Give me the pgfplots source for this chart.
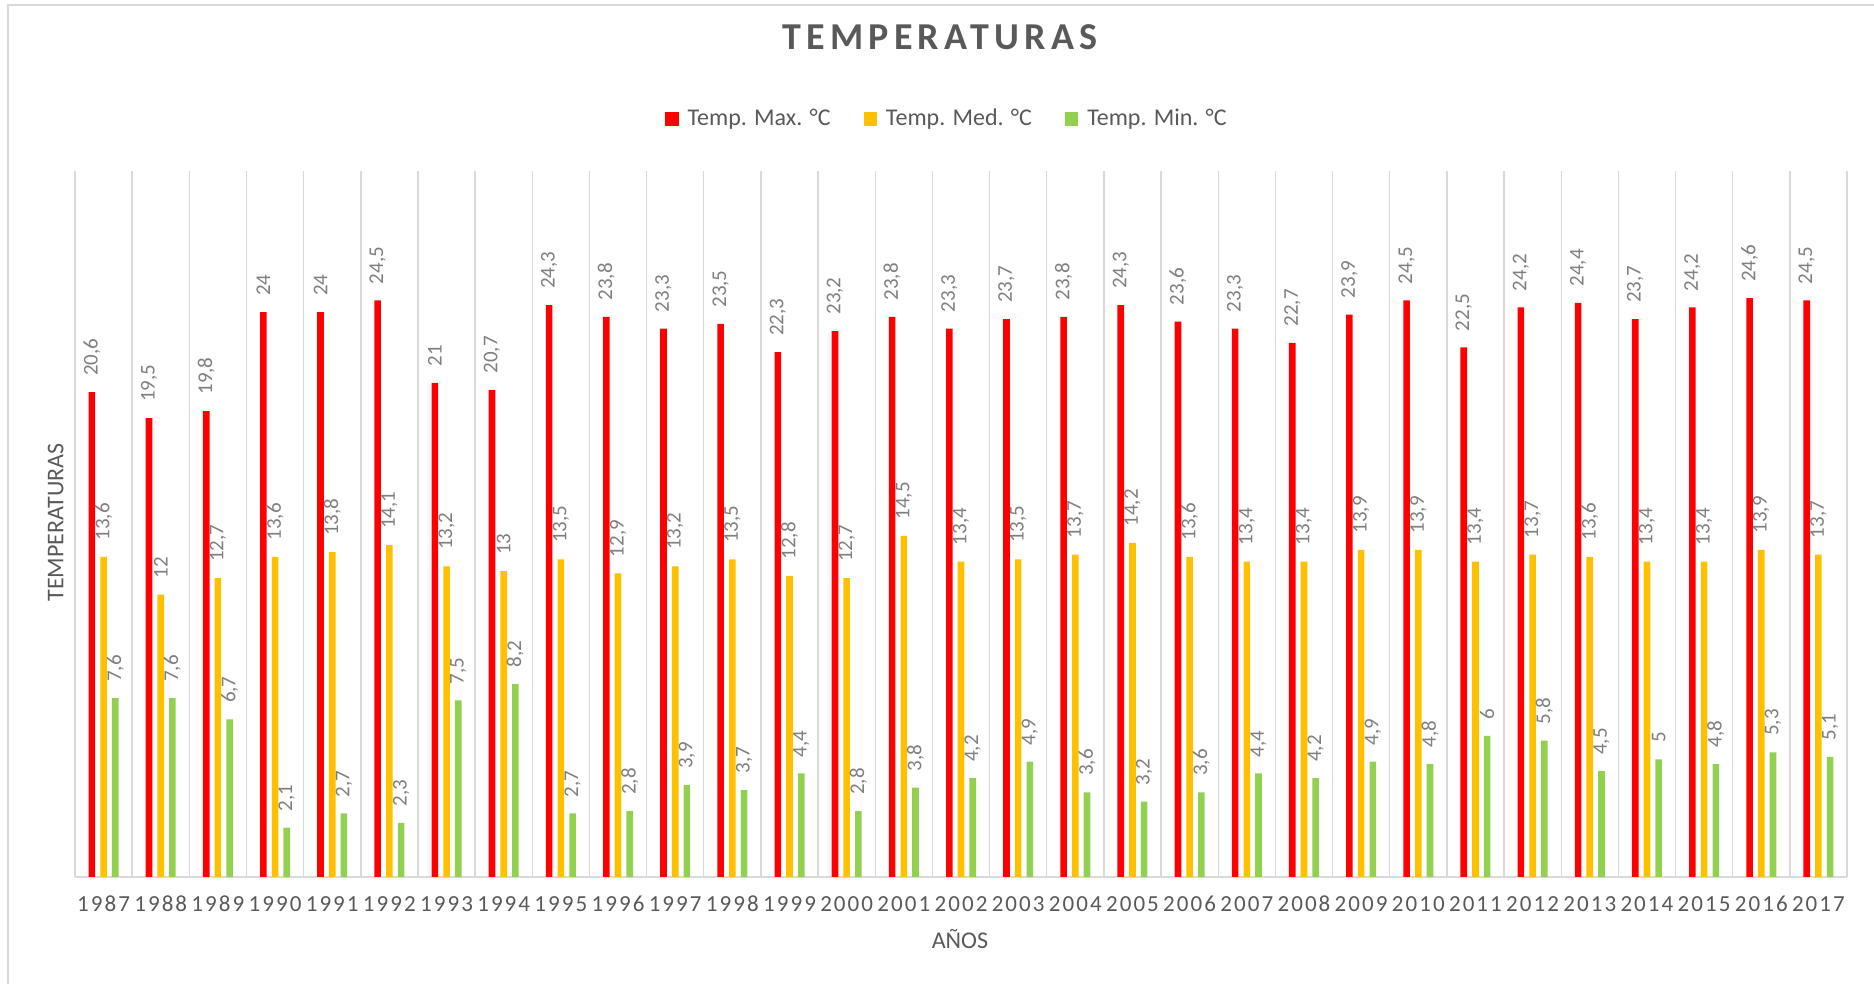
\documentclass[border=0pt]{standalone}
\usepackage{pgfplots}
\pgfplotsset{compat=1.18}
\usepackage{pgfplotstable}
\usepackage{fontspec}
\setmainfont{Carlito}
\newfontfamily\titlefont[LetterSpace=14]{Carlito}
\newfontfamily\tickfont[LetterSpace=9]{Carlito}
\definecolor{txt}{HTML}{595959}
\definecolor{lbl}{HTML}{7F7F7F}
\definecolor{gridc}{HTML}{D9D9D9}
\definecolor{cmax}{HTML}{FF0000}
\definecolor{cmed}{HTML}{FFC000}
\definecolor{cmin}{HTML}{92D050}
\pgfplotsset{sqlegend/.style={legend image code/.code={\fill[##1] (0pt,-3.35pt) rectangle (6.7pt,3.35pt);}}}

\pgfplotstableread{
x max med min
0 20.6 13.6 7.6
1 19.5 12 7.6
2 19.8 12.7 6.7
3 24 13.6 2.1
4 24 13.8 2.7
5 24.5 14.1 2.3
6 21 13.2 7.5
7 20.7 13 8.2
8 24.3 13.5 2.7
9 23.8 12.9 2.8
10 23.3 13.2 3.9
11 23.5 13.5 3.7
12 22.3 12.8 4.4
13 23.2 12.7 2.8
14 23.8 14.5 3.8
15 23.3 13.4 4.2
16 23.7 13.5 4.9
17 23.8 13.7 3.6
18 24.3 14.2 3.2
19 23.6 13.6 3.6
20 23.3 13.4 4.4
21 22.7 13.4 4.2
22 23.9 13.9 4.9
23 24.5 13.9 4.8
24 22.5 13.4 6
25 24.2 13.7 5.8
26 24.4 13.6 4.5
27 23.7 13.4 5
28 24.2 13.4 4.8
29 24.6 13.9 5.3
30 24.5 13.7 5.1
}\data

\begin{document}
\begin{tikzpicture}
\path[use as bounding box] (0,0) rectangle (937pt,492pt);
\draw[gridc, line width=0.75pt] (4pt,0) -- (4pt,489.5pt) -- (937pt,489.5pt);
\begin{axis}[
  at={(37.5pt,53.5pt)}, anchor=south west,
  scale only axis, width=886pt, height=353pt,
  ybar, bar width=3.3pt,
  xmin=-0.5, xmax=30.5, ymin=0, ymax=30,
  axis x line=bottom, axis y line=left,
  x axis line style={-, draw=gridc, line width=0.75pt},
  y axis line style={draw=none},
  ytick=\empty,
  xtick={0,...,30},
  xticklabels={1987,1988,1989,1990,1991,1992,1993,1994,1995,1996,1997,1998,1999,2000,2001,2002,2003,2004,2005,2006,2007,2008,2009,2010,2011,2012,2013,2014,2015,2016,2017},
  xticklabel style={font=\tickfont\fontsize{11.5}{14}\selectfont, text=txt, anchor=base, yshift=-17.3pt, inner sep=0pt},
  major tick length=0pt, minor tick length=0pt,
  minor xtick={-0.5,0.5,...,30.5},
  xminorgrids=true,
  minor grid style={draw=gridc, line width=0.7pt},
  clip=false,
  title={TEMPERATURAS},
  title style={font=\titlefont\bfseries\fontsize{19}{22}\selectfont, text=txt, at={(axis description cs:0.488,1.1548)}, anchor=base, inner sep=0pt},
  xlabel={AÑOS},
  xlabel style={font=\fontsize{12}{14}\selectfont, text=txt, at={(axis description cs:0.4994,-0.1006)}, anchor=base, inner sep=0pt},
  ylabel={TEMPERATURAS},
  ylabel style={font=\fontsize{12}{14}\selectfont, text=txt, at={(axis description cs:-0.0066,0.502)}, rotate=0, anchor=base, inner sep=0pt},
  nodes near coords,
  nodes near coords style={font=\fontsize{10.5}{12}\selectfont, text=lbl, rotate=90, anchor=west, inner xsep=8pt, inner ysep=0pt},
  /pgf/number format/.cd, use comma, fixed, precision=1, assume math mode=true, /pgfplots/.cd,
  legend columns=3,
  legend style={draw=none, fill=none, font=\fontsize{12}{14}\selectfont, text=txt,
    at={(axis description cs:0.4915,1.0737)}, anchor=center,
    nodes={inner sep=0pt},
    /tikz/every odd column/.append style={column sep=4.5pt},
    /tikz/every even column/.append style={column sep=16.5pt}},
]
\addplot[fill=cmax, draw=none, bar shift=-5.85pt, sqlegend] table[x=x,y=max]{\data};
\addplot[fill=cmed, draw=none, bar shift=0pt, sqlegend] table[x=x,y=med]{\data};
\addplot[fill=cmin, draw=none, bar shift=5.85pt, sqlegend] table[x=x,y=min]{\data};
\legend{Temp. Max. °C, Temp. Med. °C, Temp. Min. °C}
\end{axis}
\end{tikzpicture}
\end{document}
